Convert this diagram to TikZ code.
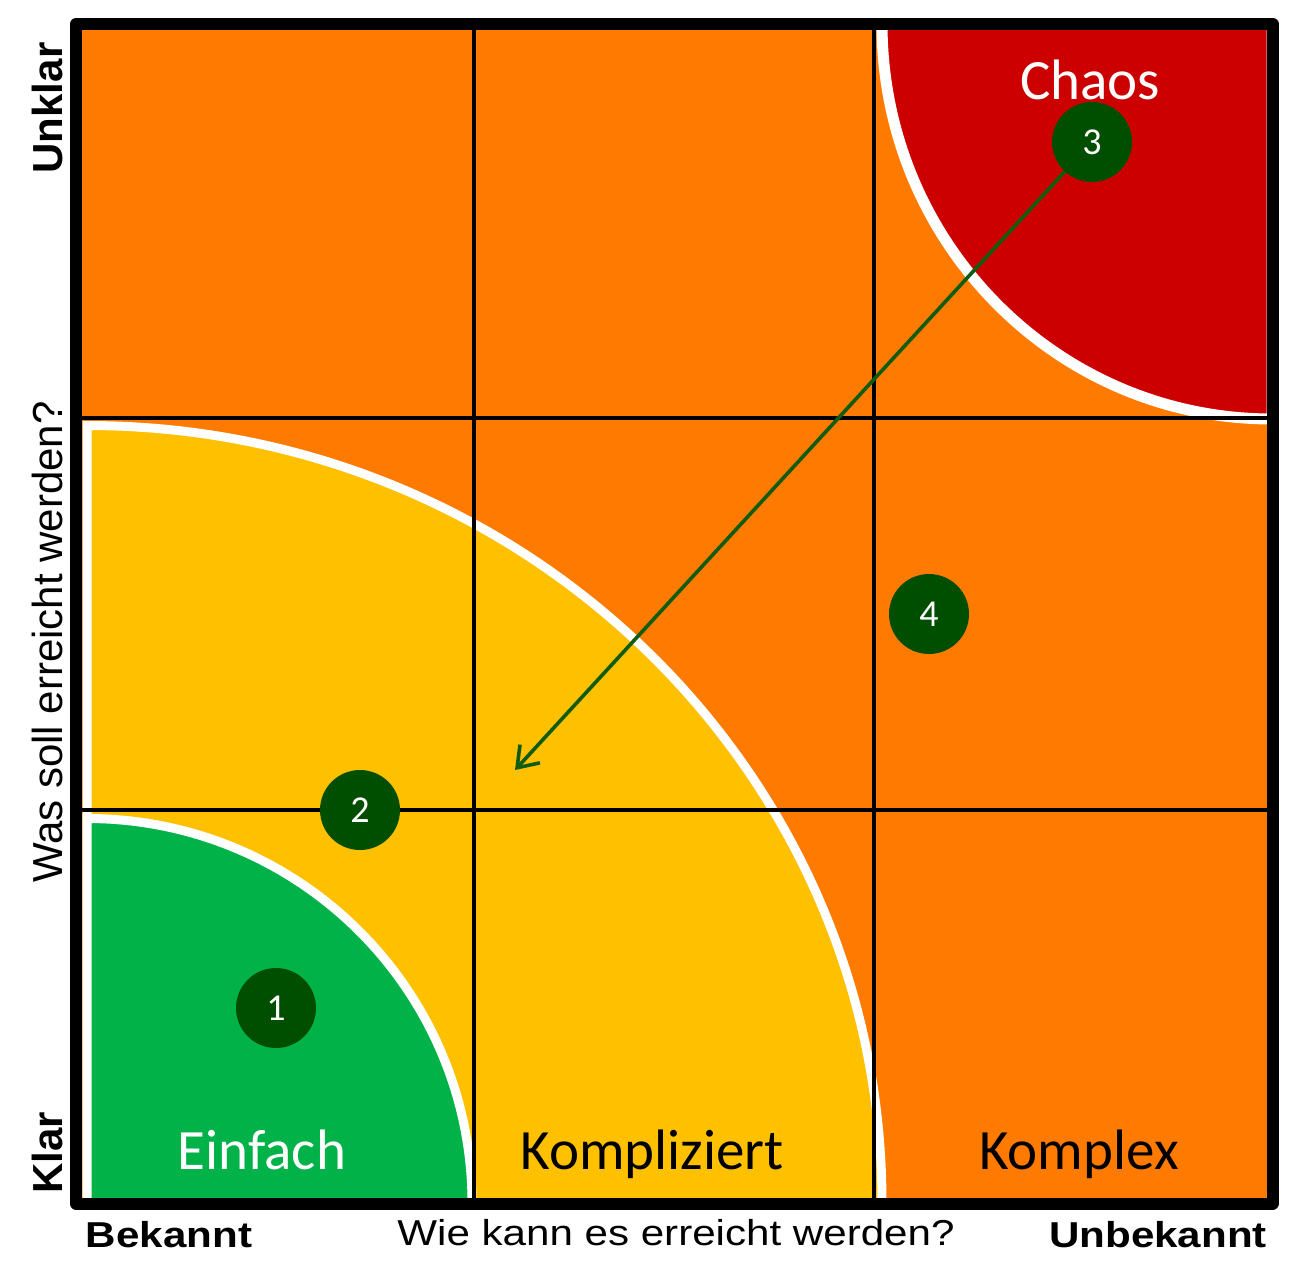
\documentclass[tikz,border=0pt]{standalone}
\usepackage{fontspec}
\setmainfont{Liberation Sans}
\newfontfamily\calfont{Carlito}
\newfontfamily\axfont{Liberation Sans}
\newfontfamily\axwide[FakeStretch=1.17]{Liberation Sans}
\usetikzlibrary{arrows.meta}
\definecolor{orng}{RGB}{255,122,0}
\definecolor{yel}{RGB}{255,192,0}
\definecolor{grn}{RGB}{0,178,72}
\definecolor{redc}{RGB}{205,0,0}
\definecolor{dkgrn}{RGB}{0,78,0}
\definecolor{arrc}{RGB}{16,92,16}
\tikzset{
  pie/.style={draw=white, line width=9pt},
  gridline/.style={draw=black, line width=3.6pt},
  numc/.style={circle, fill=dkgrn, minimum size=80pt, inner sep=0pt, text=white, font=\calfont\fontsize{38}{38}\selectfont},
  cal/.style={inner sep=0pt, font=\calfont\fontsize{57}{57}\selectfont},
  axv/.style={inner sep=0pt, rotate=90, anchor=base, font=\axfont\fontsize{42}{42}\selectfont},
  axvb/.style={axv, font=\axfont\bfseries\fontsize{42}{42}\selectfont},
  axh/.style={inner sep=0pt, anchor=base, font=\axwide\fontsize{36}{36}\selectfont},
  axhb/.style={axh, font=\axwide\bfseries\fontsize{36}{36}\selectfont},
  arrowline/.style={draw=arrc, line width=3.6pt, -{Straight Barb[length=19pt,width=27pt]}}
}
\begin{document}
\begin{tikzpicture}[x=1pt,y=-1pt]
\useasboundingbox (0,0) rectangle (1308,1280);
\fill[white] (0,0) rectangle (1308,1280);
\begin{scope}
  \clip (82,30) rectangle (1267,1198);
  \fill[orng] (82,30) rectangle (1267,1198);
  \filldraw[pie, fill=yel] (87,1203) -- (87,425.5) arc[start angle=270, end angle=360, x radius=795, y radius=777.5] -- cycle;
  \filldraw[pie, fill=grn] (87,1203) -- (87,818.5) arc[start angle=270, end angle=360, x radius=385, y radius=384.5] -- cycle;
  \filldraw[pie, fill=redc, line width=11pt] (1272,24) -- (882,24) arc[start angle=180, end angle=90, x radius=390, y radius=395] -- cycle;
  \draw[gridline] (474,30) -- (474,1198);
  \draw[gridline] (874,30) -- (874,1198);
  \draw[gridline] (82,418) -- (1267,418);
  \draw[gridline] (82,810) -- (1267,810);
\end{scope}
\draw[line width=12pt, line join=round] (76,24) rectangle (1272.5,1203.5);
% region labels
\node[cal, text=white, anchor=base] (chaos) at (1090,99) {Chaos};
\node[cal, text=white, anchor=base] (einfach) at (262,1169) {Einfach};
\node[cal, text=black, anchor=base] (kompliziert) at (652,1169) {Kompliziert};
\node[cal, text=black, anchor=base] (komplex) at (1079,1169) {Komplex};
% numbered circles
\node[numc] (c1) at (276,1008) {1};
\node[numc] (c2) at (360,810) {2};
\node[numc] (c3) at (1092,142) {3};
\node[numc] (c4) at (929,614) {4};
\coordinate (tip) at (515,770);
\draw[arrowline] (c3) -- (tip);
% axes
\node[axvb] (unklar) at (62,108) {Unklar};
\node[axvb] (klar) at (62,1153) {Klar};
\node[axv] (was) at (62,642) {Was soll erreicht werden?};
\node[axhb] (bekannt) at (169,1247) {Bekannt};
\node[axhb] (unbekannt) at (1158,1247) {Unbekannt};
\node[axh] (wie) at (676,1245) {Wie kann es erreicht werden?};
\end{tikzpicture}
\end{document}
